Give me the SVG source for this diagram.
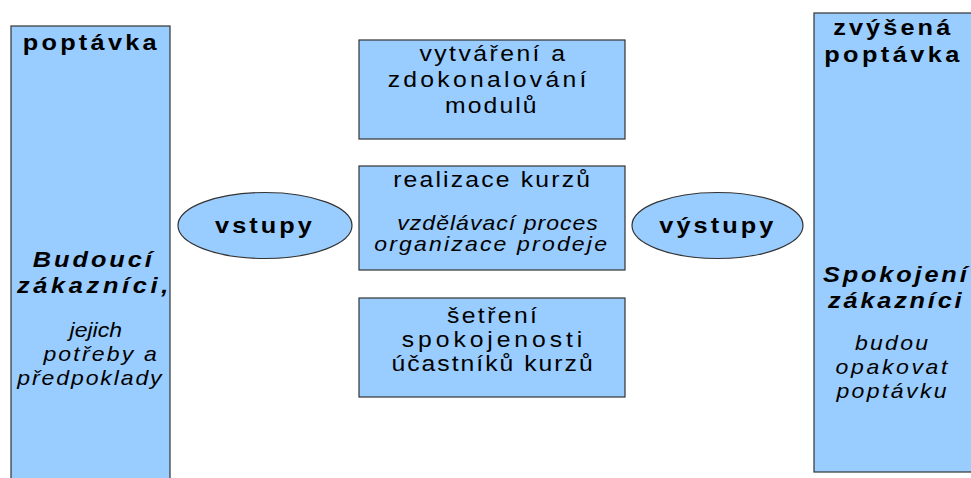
<svg xmlns="http://www.w3.org/2000/svg" width="971" height="478" viewBox="0 0 971 478">
<style>
.box{fill:#99ccff;stroke:#333333;stroke-width:1.2}
text{fill:#000000;text-anchor:middle;font-family:"Liberation Sans",Arial,sans-serif}
.b{font-size:22px;font-weight:bold;letter-spacing:2.7px}
.bi{font-size:22px;font-weight:bold;font-style:italic;letter-spacing:2.7px}
.n{font-size:21.5px;letter-spacing:2px}
.i{font-size:20px;font-style:italic;letter-spacing:2px}
</style>
<rect width="971" height="478" fill="#ffffff"/>
<g id="connectors"></g>
<g id="poptavka">
<rect class="box" x="11" y="26" width="159" height="462"/>
<g transform="translate(89.7,0) scale(1.15,1)"><text class="b" x="1.4" y="50" style="letter-spacing:2.85px">poptávka</text></g>
<g transform="translate(92.3,0) scale(1.15,1)"><text class="bi" x="1.3" y="267" style="letter-spacing:2.6px">Budoucí</text></g>
<g transform="translate(92.6,0) scale(1.15,1)"><text class="bi" x="1.6" y="293" style="letter-spacing:3.2px">zákazníci,</text></g>
<g transform="translate(95.8,0) scale(1.15,1)"><text class="i" x="0" y="337" style="letter-spacing:0px">jejich</text></g>
<g transform="translate(100,0) scale(1.15,1)"><text class="i" x="1" y="361" style="letter-spacing:1.9px">potřeby a</text></g>
<g transform="translate(89.5,0) scale(1.15,1)"><text class="i" x="0.8" y="385" style="letter-spacing:1.65px">předpoklady</text></g>
</g>
<g id="vstupy">
<ellipse class="box" cx="265" cy="225.5" rx="87" ry="33"/>
<g transform="translate(263.4,0) scale(1.15,1)"><text class="b" x="1.3" y="233" style="letter-spacing:2.65px">vstupy</text></g>
</g>
<g id="moduly">
<rect class="box" x="359" y="40" width="266" height="99"/>
<g transform="translate(492.2,0) scale(1.15,1)"><text class="n" x="1.1" y="61" style="letter-spacing:2.15px">vytváření a</text></g>
<g transform="translate(487,0) scale(1.15,1)"><text class="n" x="1.4" y="87" style="letter-spacing:2.85px">zdokonalování</text></g>
<g transform="translate(490.8,0) scale(1.15,1)"><text class="n" x="0.9" y="113" style="letter-spacing:1.85px">modulů</text></g>
</g>
<g id="realizace">
<rect class="box" x="359" y="166" width="266" height="104"/>
<g transform="translate(491.5,0) scale(1.15,1)"><text class="n" x="1" y="187" style="letter-spacing:1.9px">realizace kurzů</text></g>
<g transform="translate(497.5,0) scale(1.15,1)"><text class="i" x="0.5" y="230" style="letter-spacing:0.9px">vzdělávací proces</text></g>
<g transform="translate(490.5,0) scale(1.15,1)"><text class="i" x="1" y="251" style="letter-spacing:1.9px">organizace prodeje</text></g>
</g>
<g id="setreni">
<rect class="box" x="359" y="298" width="266" height="99"/>
<g transform="translate(492,0) scale(1.15,1)"><text class="n" x="1" y="323" style="letter-spacing:2.1px">šetření</text></g>
<g transform="translate(492,0) scale(1.15,1)"><text class="n" x="1.7" y="347" style="letter-spacing:3.4px">spokojenosti</text></g>
<g transform="translate(492,0) scale(1.15,1)"><text class="n" x="0.9" y="371" style="letter-spacing:1.75px">účastníků kurzů</text></g>
</g>
<g id="vystupy">
<ellipse class="box" cx="717.5" cy="225.5" rx="85.5" ry="33"/>
<g transform="translate(716.3,0) scale(1.15,1)"><text class="b" x="1.3" y="233" style="letter-spacing:2.65px">výstupy</text></g>
</g>
<g id="zvysena-poptavka">
<rect class="box" x="814" y="13" width="165" height="459"/>
<g transform="translate(891.7,0) scale(1.15,1)">
<text class="b" x="1.35" y="35" style="letter-spacing:2.7px">zvýšená</text>
<text class="b" x="1.5" y="62" style="letter-spacing:3px">poptávka</text>
</g>
<g transform="translate(894.8,0) scale(1.15,1)">
<text class="bi" x="1.25" y="282" style="letter-spacing:2.5px">Spokojení</text>
<text class="bi" x="1.25" y="308" style="letter-spacing:2.45px">zákazníci</text>
</g>
<g transform="translate(891.5,0) scale(1.15,1)">
<text class="i" x="1" y="350" style="letter-spacing:2px">budou</text>
<text class="i" x="1.15" y="374" style="letter-spacing:2.3px">opakovat</text>
<text class="i" x="1.05" y="398" style="letter-spacing:2.1px">poptávku</text>
</g>
</g>
</svg>
